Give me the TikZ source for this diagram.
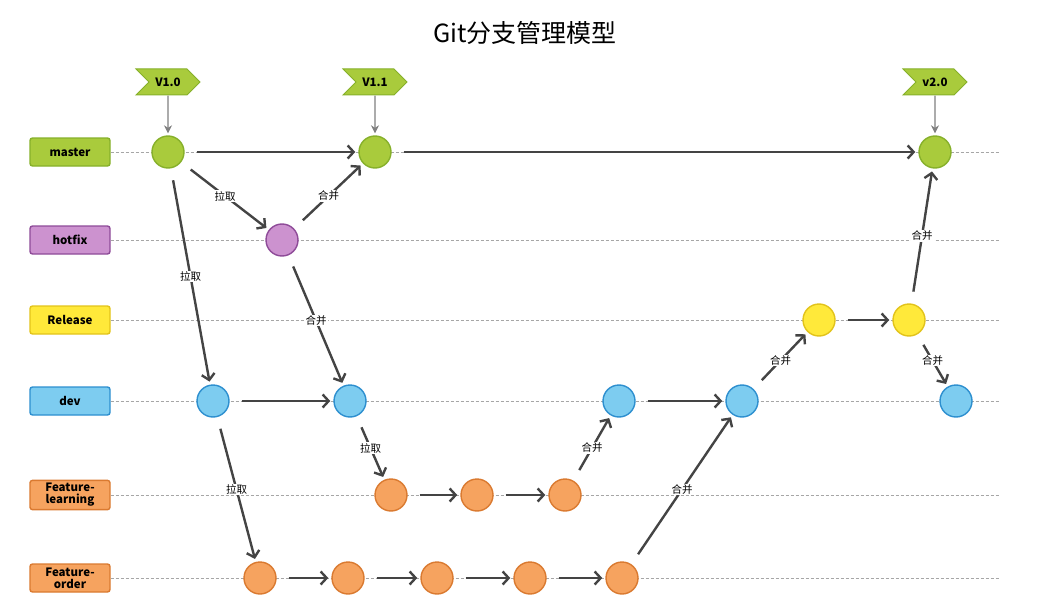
\documentclass[tikz,border=0pt]{standalone}
\usepackage{fontspec}
\setmainfont{Noto Sans CJK SC}
\usetikzlibrary{arrows.meta,shapes.symbols}

\definecolor{mfill}{HTML}{A9CB3C}
\definecolor{mline}{HTML}{86B02A}
\definecolor{hfill}{HTML}{CC92CF}
\definecolor{hline}{HTML}{8E4B98}
\definecolor{rfill}{HTML}{FFE93A}
\definecolor{rline}{HTML}{E2C31A}
\definecolor{dfill}{HTML}{7DCCF0}
\definecolor{dline}{HTML}{2D8FCF}
\definecolor{ffill}{HTML}{F6A35F}
\definecolor{fline}{HTML}{DA7A30}
\definecolor{arr}{HTML}{444444}

\begin{document}
\begin{tikzpicture}[x=1pt, y=-1pt,
  br/.style={draw, rounded corners=2.5pt, line width=1.4pt, minimum width=80pt,
    minimum height=28pt, inner xsep=1.5pt, inner ysep=3pt, align=center,
    font=\bfseries\fontsize{11.5}{12}\selectfont},
  c/.style={circle, draw, line width=1.4pt, minimum size=32pt, inner sep=0pt},
  tag/.style={signal, signal to=east, signal from=west, draw=mline, fill=mfill,
    line width=1pt, minimum width=64pt, minimum height=26pt,
    font=\bfseries\fontsize{11.5}{12}\selectfont},
  a/.style={-{Straight Barb[length=6pt,width=13pt]}, line width=2.4pt, draw=arr,
    shorten <=12pt, shorten >=3pt},
  lbl/.style={fill=white, inner sep=1pt, font=\fontsize{10.5}{10.5}\selectfont},
  lane/.style={gray!70, line width=0.8pt, dash pattern=on 3pt off 2pt},
  pin/.style={-{Stealth[length=8pt,width=8pt]}, line width=1.2pt, gray, shorten >=2pt}
]
\useasboundingbox (0,0) rectangle (1037,602);

% --- title ---
\node (title) at (525,33) {\fontsize{25}{25}\selectfont Git分支管理模型};

% --- branch labels ---
\node[br, fill=mfill, draw=mline] (master) at (70,152) {master};
\node[br, fill=hfill, draw=hline] (hotfix) at (70,240) {hotfix};
\node[br, fill=rfill, draw=rline] (release) at (70,320) {Release};
\node[br, fill=dfill, draw=dline] (dev) at (70,401) {dev};
\node[br, fill=ffill, draw=fline] (learning) at (70,495) {Feature-\\learning};
\node[br, fill=ffill, draw=fline] (order) at (70,578) {Feature-\\order};

% --- dashed lanes ---
\coordinate (eM) at (1000,152);
\coordinate (eH) at (1000,240);
\coordinate (eR) at (1000,320);
\coordinate (eD) at (1000,401);
\coordinate (eL) at (1000,495);
\coordinate (eO) at (1000,578);
\draw[lane] (master) -- (eM);
\draw[lane] (hotfix) -- (eH);
\draw[lane] (release) -- (eR);
\draw[lane] (dev) -- (eD);
\draw[lane] (learning) -- (eL);
\draw[lane] (order) -- (eO);

% --- commits ---
\node[c, fill=mfill, draw=mline] (m1) at (168,152) {};
\node[c, fill=mfill, draw=mline] (m2) at (375,152) {};
\node[c, fill=mfill, draw=mline] (m3) at (935,152) {};
\node[c, fill=hfill, draw=hline] (h1) at (282,240) {};
\node[c, fill=rfill, draw=rline] (r1) at (819,320) {};
\node[c, fill=rfill, draw=rline] (r2) at (909,320) {};
\node[c, fill=dfill, draw=dline] (d1) at (213,401) {};
\node[c, fill=dfill, draw=dline] (d2) at (350,401) {};
\node[c, fill=dfill, draw=dline] (d3) at (619,401) {};
\node[c, fill=dfill, draw=dline] (d4) at (742,401) {};
\node[c, fill=dfill, draw=dline] (d5) at (956,401) {};
\node[c, fill=ffill, draw=fline] (l1) at (391,495) {};
\node[c, fill=ffill, draw=fline] (l2) at (477,495) {};
\node[c, fill=ffill, draw=fline] (l3) at (565,495) {};
\node[c, fill=ffill, draw=fline] (o1) at (260,578) {};
\node[c, fill=ffill, draw=fline] (o2) at (348,578) {};
\node[c, fill=ffill, draw=fline] (o3) at (437,578) {};
\node[c, fill=ffill, draw=fline] (o4) at (530,578) {};
\node[c, fill=ffill, draw=fline] (o5) at (622,578) {};

% --- version tags ---
\node[tag] (t1) at (168,82) {V1.0};
\node[tag] (t2) at (375,82) {V1.1};
\node[tag] (t3) at (935,82) {v2.0};
\draw[pin] (t1) -- (m1);
\draw[pin] (t2) -- (m2);
\draw[pin] (t3) -- (m3);

% --- flow ---
\draw[a] (m1) -- (m2);
\draw[a] (m2) -- (m3);
\draw[a] (m1) -- node[lbl] {拉取} (h1);
\draw[a] (h1) -- node[lbl] {合并} (m2);
\draw[a] (m1) -- node[lbl] {拉取} (d1);
\draw[a] (h1) -- node[lbl] {合并} (d2);
\draw[a] (d1) -- (d2);
\draw[a] (d2) -- node[lbl] {拉取} (l1);
\draw[a] (d1) -- node[lbl] {拉取} (o1);
\draw[a] (l1) -- (l2);
\draw[a] (l2) -- (l3);
\draw[a] (l3) -- node[lbl] {合并} (d3);
\draw[a] (d3) -- (d4);
\draw[a] (o1) -- (o2);
\draw[a] (o2) -- (o3);
\draw[a] (o3) -- (o4);
\draw[a] (o4) -- (o5);
\draw[a] (o5) -- node[lbl] {合并} (d4);
\draw[a] (d4) -- node[lbl] {合并} (r1);
\draw[a] (r1) -- (r2);
\draw[a] (r2) -- node[lbl] {合并} (m3);
\draw[a] (r2) -- node[lbl] {合并} (d5);

\end{tikzpicture}
\end{document}
